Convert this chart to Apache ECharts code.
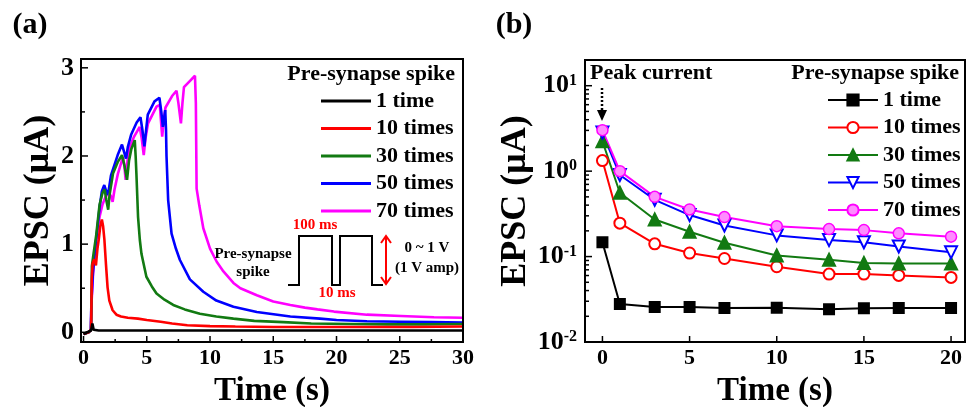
<!DOCTYPE html>
<html>
<head>
<meta charset="utf-8">
<script src="https://cdn.jsdelivr.net/npm/echarts@6/dist/echarts.min.js"></script>
<style>
  html, body { margin: 0; padding: 0; background: #fff; }
  #chart { width: 967px; height: 407px; }
</style>
</head>
<body>
<div id="chart"></div>
<script>
// (a) EPSC traces, [time s, current uA]
const trace1 = [[0, -0.02], [0.3, 0.0], [0.6, 0.02], [0.7, 0.1], [0.8, 0.03], [1.2, 0.02], [3, 0.02], [6, 0.02], [10, 0.02], [15, 0.02], [20, 0.02], [25, 0.02], [30, 0.02]];
const trace10 = [[0, -0.02], [0.4, 0.0], [0.6, 0.03], [0.65, 0.6], [0.72, 0.78], [0.85, 0.83], [0.98, 0.76], [1.1, 0.95], [1.2, 1.05], [1.32, 1.2], [1.45, 1.28], [1.55, 1.2], [1.65, 1.05], [1.77, 0.78], [1.9, 0.51], [2.04, 0.36], [2.3, 0.25], [2.6, 0.2], [2.96, 0.18], [3.5, 0.165], [4.3, 0.155], [5, 0.14], [6.1, 0.12], [7, 0.1], [8.2, 0.08], [10, 0.07], [12, 0.065], [15, 0.06], [18, 0.06], [22, 0.06], [26, 0.06], [30, 0.065]];
const trace30 = [[0, -0.02], [0.4, 0.0], [0.6, 0.03], [0.66, 0.75], [0.8, 0.9], [1.0, 1.1], [1.27, 1.45], [1.5, 1.58], [1.67, 1.62], [1.8, 1.5], [1.95, 1.39], [2.05, 1.55], [2.33, 1.8], [2.7, 1.93], [3.04, 2.01], [3.25, 1.88], [3.44, 1.73], [3.6, 1.95], [3.78, 2.08], [4.05, 2.18], [4.12, 2.0], [4.18, 1.8], [4.31, 1.31], [4.45, 1.05], [4.58, 0.89], [4.97, 0.63], [5.4, 0.52], [5.77, 0.44], [6.4, 0.37], [7.09, 0.31], [8, 0.26], [9.2, 0.21], [10.5, 0.18], [11.85, 0.155], [13.5, 0.13], [15.8, 0.115], [18, 0.1], [21, 0.095], [24, 0.09], [27, 0.09], [30, 0.095]];
const trace50 = [[0, -0.02], [0.4, 0.0], [0.58, 0.03], [0.62, 0.34], [0.74, 0.67], [1.0, 1.05], [1.27, 1.42], [1.45, 1.6], [1.64, 1.67], [1.75, 1.62], [1.85, 1.56], [2.0, 1.62], [2.17, 1.78], [2.7, 2.01], [3.04, 2.13], [3.2, 2.05], [3.36, 1.97], [3.5, 2.1], [3.76, 2.24], [4.2, 2.38], [4.5, 2.44], [4.65, 2.3], [4.81, 2.11], [4.95, 2.3], [5.08, 2.47], [5.61, 2.62], [6.0, 2.66], [6.15, 2.5], [6.27, 2.33], [6.46, 2.52], [6.52, 2.3], [6.56, 2.0], [6.69, 1.5], [6.96, 1.12], [7.3, 0.95], [7.62, 0.82], [8.41, 0.6], [9.47, 0.46], [10.5, 0.36], [11.85, 0.29], [13.7, 0.23], [16.35, 0.18], [18.7, 0.155], [20, 0.14], [22.4, 0.125], [25, 0.12], [27.5, 0.115], [30, 0.11]];
const trace70 = [[0, -0.02], [0.4, 0.0], [0.58, 0.03], [0.62, 0.3], [0.75, 0.65], [0.87, 0.89], [1.05, 1.1], [1.27, 1.31], [1.5, 1.45], [1.75, 1.54], [2.0, 1.58], [2.15, 1.55], [2.3, 1.48], [2.45, 1.62], [2.72, 1.8], [3.12, 1.99], [3.22, 1.9], [3.33, 1.73], [3.48, 1.95], [3.65, 2.1], [4.0, 2.22], [4.44, 2.33], [4.6, 2.2], [4.76, 2.01], [4.9, 2.2], [5.1, 2.37], [5.77, 2.56], [6.03, 2.58], [6.12, 2.4], [6.22, 2.22], [6.35, 2.42], [6.48, 2.55], [7.0, 2.68], [7.35, 2.74], [7.5, 2.6], [7.7, 2.37], [7.82, 2.6], [7.94, 2.78], [8.4, 2.85], [8.81, 2.91], [8.88, 2.6], [8.94, 1.63], [9.15, 1.44], [9.47, 1.18], [10.0, 0.95], [10.53, 0.8], [11.06, 0.69], [11.85, 0.56], [12.4, 0.5], [13.7, 0.42], [15.0, 0.35], [16.35, 0.31], [17.5, 0.28], [18.5, 0.26], [19.8, 0.235], [22.4, 0.2], [25.1, 0.185], [27.7, 0.17], [30, 0.165]];

// (b) peak current decay, log scale
const timeB = [0, 1, 3, 5, 7, 10, 13, 15, 17, 20];
const peak1 = [0.147, 0.0278, 0.0257, 0.0257, 0.025, 0.0252, 0.0241, 0.0248, 0.025, 0.025];
const peak10 = [1.33, 0.246, 0.141, 0.11, 0.095, 0.076, 0.0624, 0.0624, 0.0602, 0.057];
const peak30 = [2.24, 0.558, 0.272, 0.195, 0.145, 0.103, 0.0918, 0.084, 0.083, 0.083];
const peak50 = [2.83, 0.9, 0.462, 0.306, 0.231, 0.177, 0.156, 0.147, 0.131, 0.112];
const peak70 = [3.02, 1.0, 0.5, 0.356, 0.29, 0.227, 0.21, 0.204, 0.187, 0.171];

const names = ["1 time", "10 times", "30 times", "50 times", "70 times"];
const colors = ["#000000", "#ff0000", "#127a12", "#0000ff", "#ff00ff"];

// tick positions
const ticksAx = [0, 5, 10, 15, 20, 25, 30];
const minorAx = [2.5, 7.5, 12.5, 17.5, 22.5, 27.5];
const ticksAy = [0, 1, 2, 3];
const minorAy = [0.5, 1.5, 2.5];
const ticksBx = [0, 5, 10, 15, 20];
const ticksBy = [0.01, 0.1, 1, 10];

const FONT = "Liberation Serif";
var myChart = echarts.init(document.getElementById("chart"));

function pairs(xs, ys) {
  return xs.map((x, i) => [x, ys[i]]);
}

function txt(text, x, y, size, color, align) {
  return {
    type: "text",
    z: 100,
    x: x,
    y: y,
    style: {
      text: text,
      font: "bold " + size + "px " + FONT,
      fill: color || "#000",
      textAlign: align || "center",
      align: align || "center",
      textVerticalAlign: "middle",
      verticalAlign: "middle",
    },
  };
}

const axisFont = { fontFamily: FONT, fontWeight: "bold", color: "#000" };
const legendText = { fontFamily: FONT, fontWeight: "bold", fontSize: 22, color: "#000" };

let option = {
  animation: false,
  grid: [
    { left: 81, top: 59, width: 382, height: 283, containLabel: false, outerBoundsMode: "none" },
    { left: 585, top: 60, width: 380, height: 282, containLabel: false, outerBoundsMode: "none" },
  ],
  xAxis: [
    {
      type: "value",
      gridIndex: 0,
      min: -0.2,
      max: 30,
      splitNumber: 6,
      name: "Time (s)",
      nameLocation: "middle",
      nameGap: 33,
      nameTextStyle: Object.assign({ fontSize: 33 }, axisFont),
      axisLine: { show: false, onZero: false },
      axisTick: { show: false },
      splitLine: { show: false },
      axisLabel: Object.assign({
        fontSize: 22,
        margin: 5,
        formatter: (v) => (Math.abs(v % 5) < 1e-6 ? String(v) : ""),
      }, axisFont),
    },
    {
      type: "value",
      gridIndex: 1,
      min: -1,
      max: 20.8,
      splitNumber: 4,
      name: "Time (s)",
      nameLocation: "middle",
      nameGap: 33,
      nameTextStyle: Object.assign({ fontSize: 33 }, axisFont),
      axisLine: { show: false, onZero: false },
      axisTick: { show: false },
      splitLine: { show: false },
      axisLabel: Object.assign({
        fontSize: 22,
        margin: 5,
        formatter: (v) => (Math.abs(v % 5) < 1e-6 ? String(v) : ""),
      }, axisFont),
    },
  ],
  yAxis: [
    {
      type: "value",
      gridIndex: 0,
      min: -0.11,
      max: 3.1,
      splitNumber: 3,
      name: "EPSC (μA)",
      nameLocation: "middle",
      nameGap: 18,
      nameTextStyle: Object.assign({ fontSize: 36 }, axisFont),
      axisLine: { show: false, onZero: false },
      axisTick: { show: false },
      splitLine: { show: false },
      axisLabel: Object.assign({
        fontSize: 26,
        margin: 7,
        formatter: (v) => (Math.abs(v - Math.round(v)) < 1e-6 ? String(Math.round(v)) : ""),
      }, axisFont),
    },
    {
      type: "log",
      logBase: 10,
      gridIndex: 1,
      min: 0.01,
      max: 20,
      name: "EPSC (μA)",
      nameLocation: "middle",
      nameGap: 37,
      nameTextStyle: Object.assign({ fontSize: 36 }, axisFont),
      axisLine: { show: false, onZero: false },
      axisTick: { show: false },
      splitLine: { show: false },
      axisLabel: {
        margin: 8,
        formatter: function (v) {
          const l = Math.log10(v);
          const e = Math.round(l);
          if (Math.abs(l - e) > 1e-6) return "";
          return "{b|10}{s|" + e + "}";
        },
        rich: {
          b: { fontSize: 26, fontFamily: FONT, fontWeight: "bold", color: "#000" },
          s: { fontSize: 16, fontFamily: FONT, fontWeight: "bold", color: "#000", verticalAlign: "top" },
        },
      },
    },
  ],
  legend: [
    {
      left: 321,
      top: 90,
      padding: 0,
      orient: "vertical",
      itemWidth: 50,
      itemHeight: 3,
      itemGap: 5.5,
      selectedMode: false,
      textStyle: legendText,
      data: names.map((n) => ({ name: n, icon: "rect" })),
    },
    {
      left: 827,
      top: 89,
      padding: 0,
      orient: "vertical",
      itemWidth: 50,
      itemHeight: 14,
      itemGap: 5.5,
      selectedMode: false,
      textStyle: legendText,
      formatter: (n) => n.replace(/^b /, ""),
      data: names.map((n) => "b " + n),
    },
  ],
  series: [],
};

// panel (a): draw 70 first so that 1 time sits on top
const traces = [trace1, trace10, trace30, trace50, trace70];
for (let i = 4; i >= 0; i--) {
  option.series.push({
    name: names[i],
    type: "line",
    xAxisIndex: 0,
    yAxisIndex: 0,
    data: traces[i],
    symbol: "none",
    showSymbol: false,
    color: colors[i],
    lineStyle: { width: 2.6, color: colors[i] },
  });
}

// panel (b)
const peaks = [peak1, peak10, peak30, peak50, peak70];
const symbols = ["rect", "emptyCircle", "triangle", "emptyTriangle", "circle"];
const symSizes = [10, 11, 12, 12, 11];
const rotates = [0, 0, 0, 180, 0];
for (let i = 0; i < 5; i++) {
  option.series.push({
    name: "b " + names[i],
    type: "line",
    xAxisIndex: 1,
    yAxisIndex: 1,
    data: pairs(timeB, peaks[i]),
    symbol: symbols[i],
    symbolSize: symSizes[i],
    symbolRotate: rotates[i],
    showAllSymbol: true,
    color: colors[i],
    lineStyle: { width: 2, color: colors[i] },
    itemStyle: i === 4
      ? { color: "#ff8cff", borderColor: "#ff00ff", borderWidth: 1.5 }
      : { color: colors[i], borderColor: colors[i], borderWidth: 2 },
  });
}

myChart.setOption(option);

// annotations
let graphics = [
  txt("(a)", 30, 25, 30),
  txt("(b)", 514, 25, 30),
  txt("Pre-synapse spike", 455, 74, 22, "#000", "right"),
  txt("Pre-synapse spike", 959, 73, 22, "#000", "right"),
  txt("Peak current", 590, 73, 22, "#000", "left"),
  txt("Pre-synapse", 253, 254, 15),
  txt("spike", 253, 272, 15),
  txt("100 ms", 315, 225, 15, "#ff0000"),
  txt("10 ms", 337, 293, 15, "#ff0000"),
  txt("0 ~ 1 V", 427, 248, 15),
  txt("(1 V amp)", 427, 268, 15),
  {
    type: "polyline",
    z: 100,
    shape: { points: [[288, 285], [299, 285], [299, 236], [332, 236], [332, 285], [340, 285], [340, 236], [372, 236], [372, 285], [383, 285]] },
    style: { stroke: "#000", lineWidth: 2, fill: null },
  },
  { type: "line", z: 100, shape: { x1: 386, y1: 236, x2: 386, y2: 284 }, style: { stroke: "#ff0000", lineWidth: 2 } },
  { type: "polyline", z: 100, shape: { points: [[381, 243], [386, 236], [391, 243]] }, style: { stroke: "#ff0000", lineWidth: 2, fill: null } },
  { type: "polyline", z: 100, shape: { points: [[381, 277], [386, 284], [391, 277]] }, style: { stroke: "#ff0000", lineWidth: 2, fill: null } },
  { type: "line", z: 100, shape: { x1: 602, y1: 88, x2: 602, y2: 111 }, style: { stroke: "#000", lineWidth: 2.5, lineDash: [2, 2] } },
  { type: "polygon", z: 100, shape: { points: [[597, 110], [607, 110], [602, 121]] }, style: { fill: "#000" } },
];

function seg(x1, y1, x2, y2, w) {
  return { type: "line", z: 100, shape: { x1: x1, y1: y1, x2: x2, y2: y2 }, style: { stroke: "#000", lineWidth: w || 1.5 } };
}

// box and inward ticks, positioned through each grid's scales
function frame(gridIndex, xExt, yExt, xMajor, xMinor, yMajor, yMinor) {
  const p0 = myChart.convertToPixel({ gridIndex: gridIndex }, [xExt[0], yExt[0]]);
  const p1 = myChart.convertToPixel({ gridIndex: gridIndex }, [xExt[1], yExt[1]]);
  const L = p0[0], B = p0[1], R = p1[0], T = p1[1];
  graphics.push({
    type: "rect",
    z: 101,
    shape: { x: L, y: T, width: R - L, height: B - T },
    style: { stroke: "#000", lineWidth: 2, fill: null },
  });
  xMajor.forEach((v) => {
    const x = myChart.convertToPixel({ gridIndex: gridIndex }, [v, yExt[0]])[0];
    graphics.push(seg(x, B, x, B - 6));
  });
  xMinor.forEach((v) => {
    const x = myChart.convertToPixel({ gridIndex: gridIndex }, [v, yExt[0]])[0];
    graphics.push(seg(x, B, x, B - 3));
  });
  yMajor.forEach((v) => {
    const y = myChart.convertToPixel({ gridIndex: gridIndex }, [xExt[0], v])[1];
    graphics.push(seg(L, y, L + 7, y));
  });
  yMinor.forEach((v) => {
    const y = myChart.convertToPixel({ gridIndex: gridIndex }, [xExt[0], v])[1];
    graphics.push(seg(L, y, L + 4, y));
  });
}

// minor ticks of the log axis at 2..9 per decade
let minorBy = [];
for (let d = -2; d <= 1; d++) {
  for (let m = 2; m <= 9; m++) {
    const v = m * Math.pow(10, d);
    if (v < 20) minorBy.push(v);
  }
}

frame(0, [-0.2, 30], [-0.11, 3.1], ticksAx, minorAx, ticksAy, minorAy);
frame(1, [-1, 20.8], [0.01, 20], ticksBx, [], ticksBy, minorBy);

myChart.setOption({ graphic: graphics });
</script>
</body>
</html>
